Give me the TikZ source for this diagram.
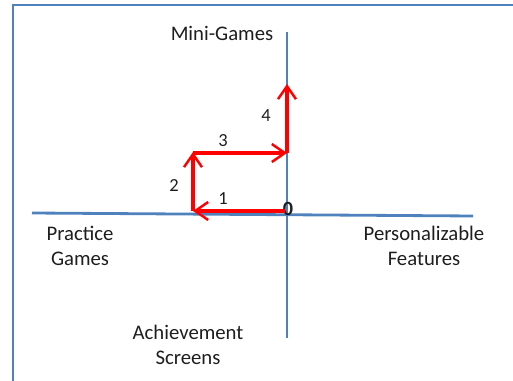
\documentclass[tikz,border=0pt]{standalone}
\usepackage{fontspec}
\setmainfont{Carlito}
\usepackage{xcolor}
\usetikzlibrary{arrows.meta, positioning, calc}
\definecolor{axisblue}{RGB}{79,129,189}
\definecolor{pathred}{RGB}{255,0,0}
\definecolor{txtgray}{RGB}{30,30,30}
\tikzset{every node/.append style={align=center}}
\tikzset{
  frame/.style={draw=axisblue, line width=1.2pt},
  axis/.style={draw=axisblue, line width=1.6pt},
  move/.style={-{Straight Barb[length=2.6mm, width=3.6mm, line width=1.4pt]}, pathred, line width=1.8pt},
  lbl/.style={font=\fontsize{11.8}{14}\selectfont, text=txtgray, inner sep=1pt},
  num/.style={font=\fontsize{10.5}{12}\selectfont, text=txtgray, inner sep=1pt}
}
\begin{document}
\begin{tikzpicture}[x=0.02cm, y=-0.02cm]
  \useasboundingbox (0,0) rectangle (513,381);
  % outer frame, cut off at right and bottom
  \draw[frame] (13,381) -- (13,5) -- (513,5);
  % axes
  \coordinate (top) at (287,32);
  \coordinate (bottom) at (287,338);
  \coordinate (left) at (32,213);
  \coordinate (right) at (473,216);
  \draw[axis] (top) -- (bottom);
  \draw[axis] (left) -- (right);
  % quadrant labels
  \node[lbl] (mini) at (222,33) {Mini-Games};
  \node[lbl] (practice) at (80,246) {Practice\\Games};
  \node[lbl] (personal) at (424,246) {Personalizable\\Features};
  \node[lbl] (achieve) at (188,345) {Achievement\\Screens};
  % origin and path
  \node[num, font=\fontsize{11.5}{12}\selectfont\bfseries] (origin) at (288,209) {0};
  \coordinate (p1) at (193,211);
  \coordinate (p2) at (193,152);
  \coordinate (p3) at (287,153);
  \coordinate (p4) at (287,84);
  \draw[move] (285,211) -- (p1);
  \draw[move] (p1) -- (p2);
  \draw[move] ($(p2)+(0,1)$) -- (p3);
  \draw[move] (p3) -- (p4);
  \node[num] (n1) at (223,199) {1};
  \node[num] (n2) at (174,186) {2};
  \node[num] (n3) at (223,141) {3};
  \node[num] (n4) at (266,116) {4};
\end{tikzpicture}
\end{document}
